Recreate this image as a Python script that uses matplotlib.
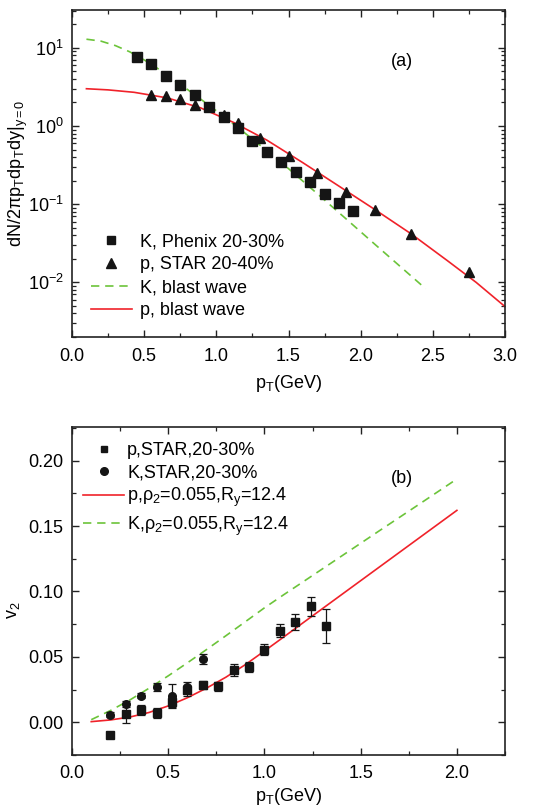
import matplotlib
matplotlib.use("Agg")
import matplotlib.pyplot as plt
from matplotlib.ticker import (MultipleLocator, LogLocator, NullFormatter,
                               FormatStrFormatter)
from matplotlib.lines import Line2D

plt.rcParams['font.family'] = ['Liberation Sans', 'DejaVu Sans']
plt.rcParams['mathtext.fontset'] = 'custom'
plt.rcParams['mathtext.rm'] = 'Liberation Sans'
plt.rcParams['mathtext.it'] = 'Liberation Sans:italic'
plt.rcParams['mathtext.default'] = 'regular'

# ---------------- Panel (a) data ----------------
k_phenix_pt = [0.45, 0.55, 0.65, 0.75, 0.85, 0.95, 1.05, 1.15, 1.25, 1.35,
               1.45, 1.55, 1.65, 1.75, 1.85, 1.95]
k_phenix_y = [7.7, 6.2, 4.4, 3.3, 2.47, 1.74, 1.31, 0.95, 0.64, 0.46,
              0.35, 0.26, 0.19, 0.134, 0.105, 0.082]

p_star_pt = [0.55, 0.65, 0.75, 0.85, 1.05, 1.15, 1.30, 1.50, 1.70, 1.90,
             2.10, 2.35, 2.75]
p_star_y = [2.52, 2.40, 2.22, 1.88, 1.40, 1.08, 0.71, 0.41, 0.25, 0.144,
            0.084, 0.0415, 0.0135]
p_star_err = [0.22, 0.21, 0.19, 0.16, 0.12, 0.09, 0.06, 0.035, 0.022, 0.013,
              0.008, 0.004, 0.0015]

k_bw_pt = [0.1, 0.2, 0.3, 0.4, 0.45, 0.55, 0.65, 0.75, 0.85, 0.95, 1.05,
           1.15, 1.3, 1.5, 1.7, 1.9, 2.1, 2.3, 2.45]
k_bw_y = [12.9, 12.2, 10.7, 8.9, 7.9, 6.2, 4.6, 3.43, 2.51, 1.84, 1.33,
          0.955, 0.575, 0.285, 0.136, 0.0646, 0.0305, 0.0145, 0.0083]

p_bw_pt = [0.1, 0.25, 0.43, 0.66, 0.89, 1.12, 1.35, 1.6, 1.85, 2.1, 2.35,
           2.6, 2.8, 3.0]
p_bw_y = [3.0, 2.90, 2.70, 2.29, 1.71, 1.11, 0.66, 0.339, 0.170, 0.085,
          0.0417, 0.019, 0.010, 0.0049]

# ---------------- Panel (b) data ----------------
p_v2_pt = [0.20, 0.28, 0.36, 0.44, 0.52, 0.60, 0.68, 0.76, 0.84, 0.92, 1.00,
           1.08, 1.16, 1.24, 1.32]
p_v2 = [-0.0095, 0.0066, 0.0092, 0.0072, 0.0155, 0.0244, 0.0288, 0.0275,
        0.0400, 0.0423, 0.0555, 0.0700, 0.0766, 0.0886, 0.0733]
p_v2_err = [0.001, 0.0075, 0.004, 0.004, 0.004, 0.004, 0.003, 0.0035,
            0.0045, 0.004, 0.004, 0.005, 0.006, 0.0075, 0.013]

k_v2_pt = [0.20, 0.28, 0.36, 0.44, 0.52, 0.60, 0.68]
k_v2 = [0.0059, 0.0140, 0.0204, 0.0270, 0.0200, 0.0267, 0.0484]
k_v2_err = [0.002, 0.002, 0.002, 0.003, 0.009, 0.004, 0.004]

p_fit_pt = [0.1, 0.2, 0.3, 0.4, 0.5, 0.6, 0.7, 0.8, 0.9, 1.0, 1.1, 1.2, 1.4,
            1.6, 1.8, 2.0]
p_fit_v2 = [0.0005, 0.0018, 0.0040, 0.0075, 0.0125, 0.0188, 0.0262, 0.0345,
            0.0440, 0.0545, 0.0652, 0.0760, 0.0975, 0.1190, 0.1405, 0.1620]

k_fit_pt = [0.1, 0.2, 0.3, 0.4, 0.5, 0.6, 0.7, 0.8, 0.9, 1.0, 1.1, 1.2, 1.4,
            1.6, 1.8, 2.0]
k_fit_v2 = [0.002, 0.009, 0.017, 0.026, 0.0355, 0.0455, 0.0557, 0.0662,
            0.0768, 0.0875, 0.0975, 0.1073, 0.1270, 0.1467, 0.1663, 0.1860]

RED = '#f0222a'
GREEN = '#6cc43a'
FS = 13
INK = '#151515'

fig = plt.figure(figsize=(5.38, 8.10), dpi=100)
ax1 = fig.add_axes([72/538, (810-337)/810, 433/538, 327/810])
ax2 = fig.add_axes([72/538, (810-755)/810, 433/538, 327.7/810])


def style(ax):
    for s in ax.spines.values():
        s.set_linewidth(1.2)
        s.set_color('#222222')
    ax.tick_params(which='both', direction='in', top=True, right=True,
                   labelsize=FS, color='#222222')
    ax.tick_params(which='major', length=5, width=1.0, pad=6)
    ax.tick_params(which='minor', length=3, width=0.9)
    ax.tick_params(axis='x', which='major', pad=8)


# ---------- Panel (a) ----------
ax1.set_yscale('log')
l_kbw, = ax1.plot(k_bw_pt, k_bw_y, color=GREEN, lw=1.2, ls=(0, (5, 3.5)))
l_pbw, = ax1.plot(p_bw_pt, p_bw_y, color=RED, lw=1.2)
ax1.plot(k_phenix_pt, k_phenix_y, 's', color=INK, ms=6.8, ls='none')
ax1.errorbar(p_star_pt, p_star_y, yerr=p_star_err, fmt='^', color=INK,
             ms=7.3, elinewidth=0.9, capsize=0)
ax1.set_xlim(0, 3.0)
ax1.set_ylim(0.002, 30.5)
ax1.xaxis.set_major_locator(MultipleLocator(0.5))
ax1.xaxis.set_minor_locator(MultipleLocator(0.25))
ax1.xaxis.set_major_formatter(FormatStrFormatter('%.1f'))
ax1.yaxis.set_major_locator(LogLocator(base=10, numticks=10))
ax1.yaxis.set_minor_locator(LogLocator(base=10, subs=range(2, 10), numticks=20))
ax1.yaxis.set_minor_formatter(NullFormatter())
style(ax1)
ax1.set_xlabel('p$_\\mathregular{T}$(GeV)', fontsize=FS, labelpad=6)
ax1.set_ylabel('dN/2πp$_\\mathregular{T}$dp$_\\mathregular{T}$dy|$_\\mathregular{y=0}$',
               fontsize=FS)
ax1.yaxis.set_label_coords(-0.097, 0.5)
ax1.text(0.761, 0.842, '(a)', transform=ax1.transAxes, fontsize=FS,
         ha='center', va='center')
h_k = Line2D([], [], marker='s', color=INK, ms=6, ls='none')
h_p = Line2D([], [], marker='^', color=INK, ms=6.5, ls='none')
ax1.legend([h_k, h_p, l_kbw, l_pbw],
           ['K, Phenix 20-30%', 'p, STAR 20-40%', 'K, blast wave',
            'p, blast wave'],
           loc='lower left', bbox_to_anchor=(0.043, 0.055), frameon=False,
           fontsize=FS, handlelength=2.3, handletextpad=0.45,
           labelspacing=0.33, borderaxespad=0, borderpad=0)

# ---------- Panel (b) ----------
l_pf, = ax2.plot(p_fit_pt, p_fit_v2, color=RED, lw=1.2)
l_kf, = ax2.plot(k_fit_pt, k_fit_v2, color=GREEN, lw=1.2, ls=(0, (5, 3.5)))
ax2.errorbar(p_v2_pt, p_v2, yerr=p_v2_err, fmt='s', color=INK, ms=5.3,
             elinewidth=0.9, capsize=3, capthick=0.9)
ax2.errorbar(k_v2_pt, k_v2, yerr=k_v2_err, fmt='o', color=INK, ms=5.5,
             elinewidth=0.9, capsize=3, capthick=0.9)
ax2.set_xlim(0, 2.25)
ax2.set_ylim(-0.025, 0.2255)
ax2.xaxis.set_major_locator(MultipleLocator(0.5))
ax2.xaxis.set_minor_locator(MultipleLocator(0.25))
ax2.xaxis.set_major_formatter(FormatStrFormatter('%.1f'))
ax2.yaxis.set_major_locator(MultipleLocator(0.05))
ax2.yaxis.set_minor_locator(MultipleLocator(0.025))
ax2.yaxis.set_major_formatter(FormatStrFormatter('%.2f'))
style(ax2)
ax2.tick_params(axis='x', which='major', pad=7)
ax2.set_xlabel('p$_\\mathregular{T}$(GeV)', fontsize=FS, labelpad=3)
ax2.set_ylabel('v$_\\mathregular{2}$', fontsize=FS)
ax2.yaxis.set_label_coords(-0.115, 0.442)
ax2.text(0.761, 0.844, '(b)', transform=ax2.transAxes, fontsize=FS,
         ha='center', va='center')
h_ps = Line2D([], [], marker='s', color=INK, ms=5, ls='none')
h_kc = Line2D([], [], marker='o', color=INK, ms=5.5, ls='none')
ax2.legend([h_ps, h_kc, l_pf, l_kf],
           ['p,STAR,20-30%', 'K,STAR,20-30%',
            'p,ρ$_\\mathregular{2}$=0.055,R$_\\mathregular{y}$=12.4',
            'K,ρ$_\\mathregular{2}$=0.055,R$_\\mathregular{y}$=12.4'],
           loc='upper left', bbox_to_anchor=(0.025, 0.955), frameon=False,
           fontsize=FS, handlelength=2.3, handletextpad=0.15,
           labelspacing=0.28, borderaxespad=0, borderpad=0)

fig.savefig('out.png', dpi=100)
